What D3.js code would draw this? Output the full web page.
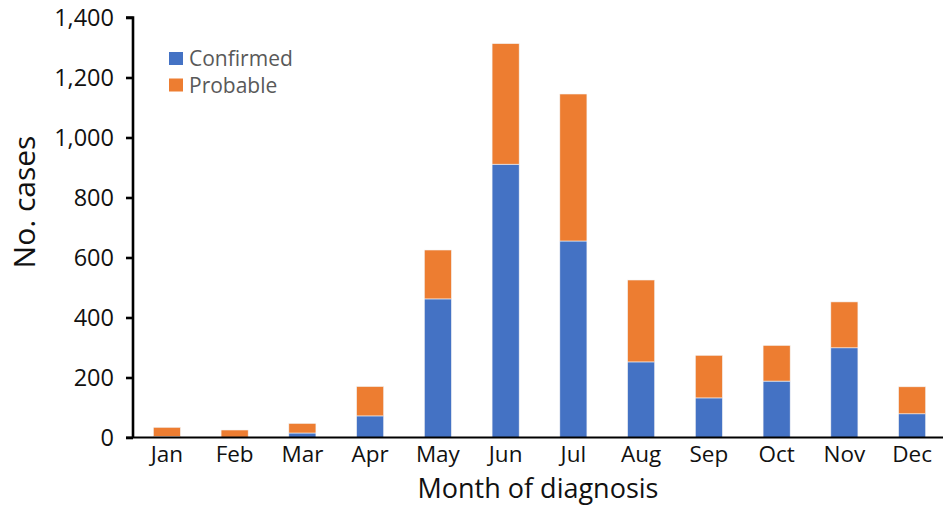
<!DOCTYPE html>
<html>
<head>
<meta charset="utf-8">
<script src="https://cdn.jsdelivr.net/npm/d3@7"></script>
<style>
  html, body { margin: 0; padding: 0; background: #fff; }
  svg { display: block; }
  text { font-family: "Open Sans", sans-serif; }
</style>
</head>
<body>
<svg id="chart" width="943" height="506"></svg>
<script>
const months = ["Jan","Feb","Mar","Apr","May","Jun","Jul","Aug","Sep","Oct","Nov","Dec"];
const confirmed = [3, 1, 15, 72, 462, 911, 655, 252, 132, 188, 299, 79];
const probable = [31, 24, 32, 98, 163, 402, 490, 273, 142, 119, 153, 90];
const seriesNames = ["Confirmed", "Probable"];
const seriesColors = ["#4472C4", "#ED7D31"];
const yTicks = [0, 200, 400, 600, 800, 1000, 1200, 1400];

const svg = d3.select("#chart");
const W = 943, H = 506;
const axisX = 133, y0 = 437.5, yTop = 17.5;

const x = d3.scaleBand().domain(months).range([axisX, axisX + 12 * 67.75]).paddingInner(0.6).paddingOuter(0.3);
const y = d3.scaleLinear().domain([0, 1400]).range([y0, yTop]);

const rows = months.map((m, i) => ({month: m, Confirmed: confirmed[i], Probable: probable[i]}));
const stack = d3.stack().keys(seriesNames)(rows);
const color = d3.scaleOrdinal().domain(seriesNames).range(seriesColors);

svg.append("g").selectAll("g").data(stack).join("g")
  .attr("fill", d => color(d.key))
  .selectAll("rect").data(d => d).join("rect")
  .attr("x", d => x(d.data.month))
  .attr("width", x.bandwidth())
  .attr("y", d => y(d[1]))
  .attr("height", d => Math.max(0, y(d[0]) - y(d[1])))
  .attr("stroke", "#f4f4f4")
  .attr("stroke-width", 0.6);

// Y axis
const yAxis = d3.axisLeft(y).tickValues(yTicks).tickSize(7).tickPadding(12)
  .tickFormat(d3.format(","));
const gy = svg.append("g").attr("transform", `translate(${axisX},0)`).call(yAxis);
gy.select(".domain").attr("stroke", "#000").attr("stroke-width", 2.6).attr("d", `M-7,${yTop}H0V${y0}`);
gy.selectAll(".tick line").attr("stroke", "#000").attr("stroke-width", 2.6);
gy.selectAll(".tick text").attr("fill", "#111").style("font-size", "23.5px").style("font-family", "'Open Sans', sans-serif");

// X axis
const xAxis = d3.axisBottom(x).tickSize(0).tickPadding(9);
const gx = svg.append("g").attr("transform", `translate(0,${y0})`).call(xAxis);
gx.select(".domain").attr("stroke", "#000").attr("stroke-width", 2.2).attr("d", `M${axisX - 7},0H${W}`);
gx.selectAll(".tick text").attr("fill", "#111").style("font-size", "22.5px").style("font-family", "'Open Sans', sans-serif");

// Axis titles
svg.append("text")
  .attr("transform", `translate(35,202) rotate(-90)`)
  .attr("text-anchor", "middle")
  .attr("fill", "#111")
  .style("font-size", "30px")
  .text("No. cases");

svg.append("text")
  .attr("x", 538).attr("y", 497.5)
  .attr("text-anchor", "middle")
  .attr("fill", "#111")
  .style("font-size", "27px")
  .text("Month of diagnosis");

// Legend
const leg = svg.append("g").attr("transform", "translate(169,52)");
seriesNames.forEach((s, i) => {
  const g = leg.append("g").attr("transform", `translate(0,${i * 26.5})`);
  g.append("rect").attr("width", 14).attr("height", 13).attr("fill", color(s));
  g.append("text").attr("x", 20).attr("y", 14).attr("fill", "#595959")
    .style("font-size", "21px").text(s);
});
</script>
</body>
</html>
